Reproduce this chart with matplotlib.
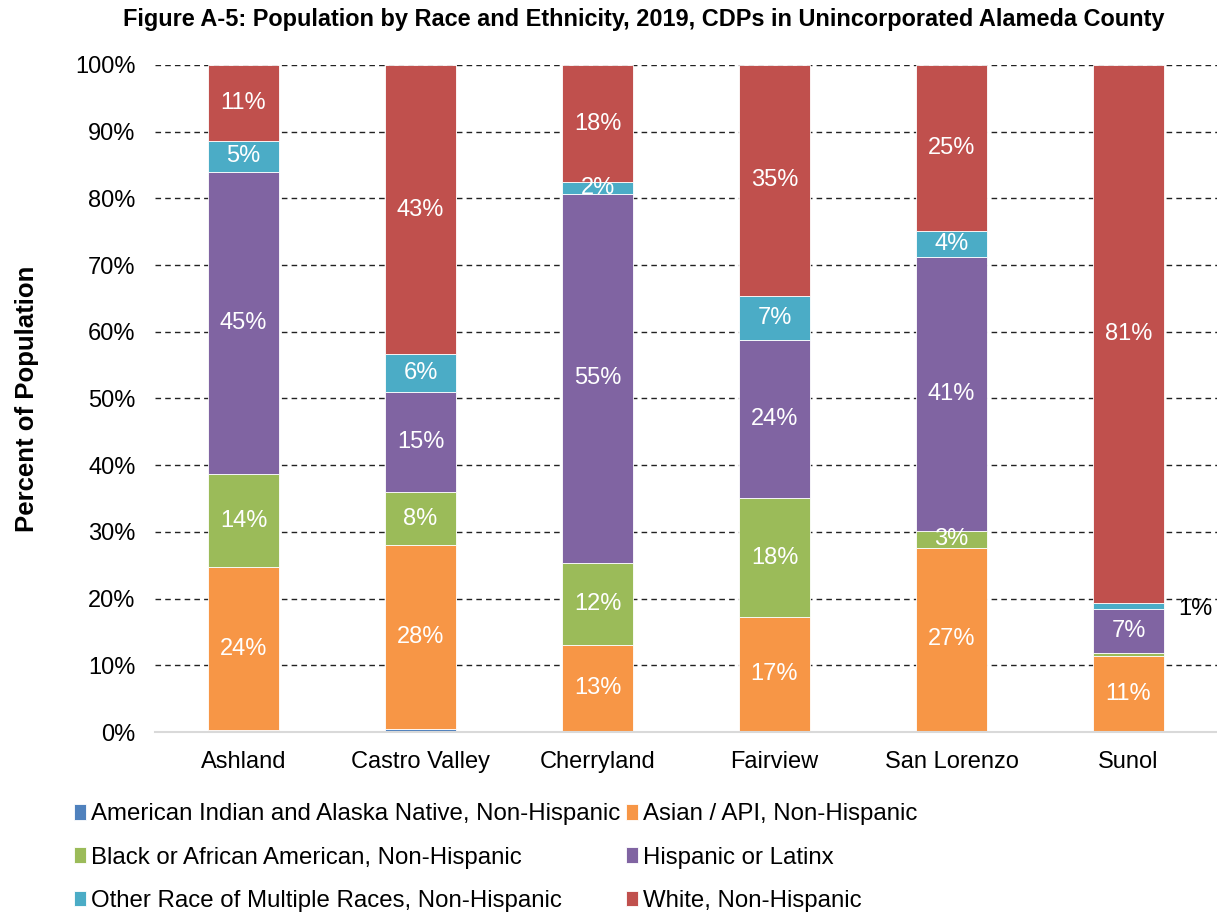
import numpy as np
import matplotlib
matplotlib.use("Agg")
import matplotlib.pyplot as plt
from matplotlib.ticker import PercentFormatter

plt.rcParams['font.family'] = ['Liberation Sans', 'DejaVu Sans']

places = ["Ashland", "Castro Valley", "Cherryland", "Fairview", "San Lorenzo", "Sunol"]

# percent of population per CDP
ai_nh     = [0.3, 0.4, 0.1, 0.1, 0.2, 0.0]
asian_nh  = [24.4, 27.6, 12.9, 17.1, 27.4, 11.4]
black_nh  = [14.0, 8.0, 12.3, 17.9, 2.6, 0.5]
hispanic  = [45.3, 15.0, 55.4, 23.6, 41.0, 6.6]
other_nh  = [4.6, 5.6, 1.7, 6.7, 3.9, 0.8]
white_nh  = [11.4, 43.4, 17.6, 34.6, 24.9, 80.7]

series_names = ["American Indian and Alaska Native, Non-Hispanic",
                "Asian / API, Non-Hispanic",
                "Black or African American, Non-Hispanic",
                "Hispanic or Latinx",
                "Other Race of Multiple Races, Non-Hispanic",
                "White, Non-Hispanic"]
series = [ai_nh, asian_nh, black_nh, hispanic, other_nh, white_nh]
colors = ["#4F81BD", "#F79646", "#9BBB59", "#8064A2", "#4BACC6", "#C0504D"]

fig = plt.figure(figsize=(12.17, 9.13), dpi=100)
ax = fig.add_axes([155/1217, (913-732)/913, 1062/1217, 667/913])

x = np.arange(len(places))
w = 0.4
bottom = np.zeros(len(places))
handles = []
for name, vals, c in zip(series_names, series, colors):
    vals = np.array(vals)
    b = ax.bar(x, vals, w, bottom=bottom, color=c, edgecolor="white", linewidth=0.6, label=name, zorder=3)
    handles.append(b)
    for i, v in enumerate(vals):
        if v >= 1.5:
            ax.text(x[i], bottom[i] + v/2, "%.0f%%" % v, ha="center", va="center",
                    color="white", fontsize=17, zorder=4)
        elif v >= 0.75:
            # small segment: label outside, to the right of the bar
            ax.text(x[i] + w/2 + 0.08, bottom[i] + v/2 - 0.4, "%.0f%%" % v, ha="left", va="center",
                    color="black", fontsize=17, zorder=4)
    bottom += vals

ax.set_xlim(-0.5, len(places) - 0.5)
ax.set_ylim(0, 100)
ax.set_yticks(np.arange(0, 101, 10))
ax.yaxis.set_major_formatter(PercentFormatter(decimals=0))
ax.set_xticks(x)
ax.set_xticklabels(places)
ax.tick_params(axis="y", length=0, labelsize=17, pad=14)
ax.tick_params(axis="x", length=0, labelsize=17, pad=14)
ax.yaxis.grid(True, linestyle=(0, (4, 3)), color="#222222", linewidth=1.0, zorder=0)
for s in ["top", "right", "left"]:
    ax.spines[s].set_visible(False)
ax.spines["bottom"].set_color("#D9D9D9")
ax.spines["bottom"].set_linewidth(1.5)
ax.spines["bottom"].set_zorder(5)
# hide the dashed line at 0
ax.get_ygridlines()[0].set_visible(False)

ax.set_ylabel("Percent of Population", fontsize=18.5, fontweight="bold", labelpad=26)
fig.text(0.529, 0.991, "Figure A-5: Population by Race and Ethnicity, 2019, CDPs in Unincorporated Alameda County",
         ha="center", va="top", fontsize=16.9, fontweight="bold")

order = [0, 2, 4, 1, 3, 5]
fig.legend([handles[i] for i in order], [series_names[i] for i in order],
           loc="upper left", bbox_to_anchor=(0.061, 0.12), ncol=2, frameon=False,
           fontsize=17.3, handlelength=0.5, handleheight=0.6, handletextpad=0.2,
           labelspacing=0.88, columnspacing=0.25, borderpad=0, borderaxespad=0)

fig.savefig("out.png", dpi=100)
